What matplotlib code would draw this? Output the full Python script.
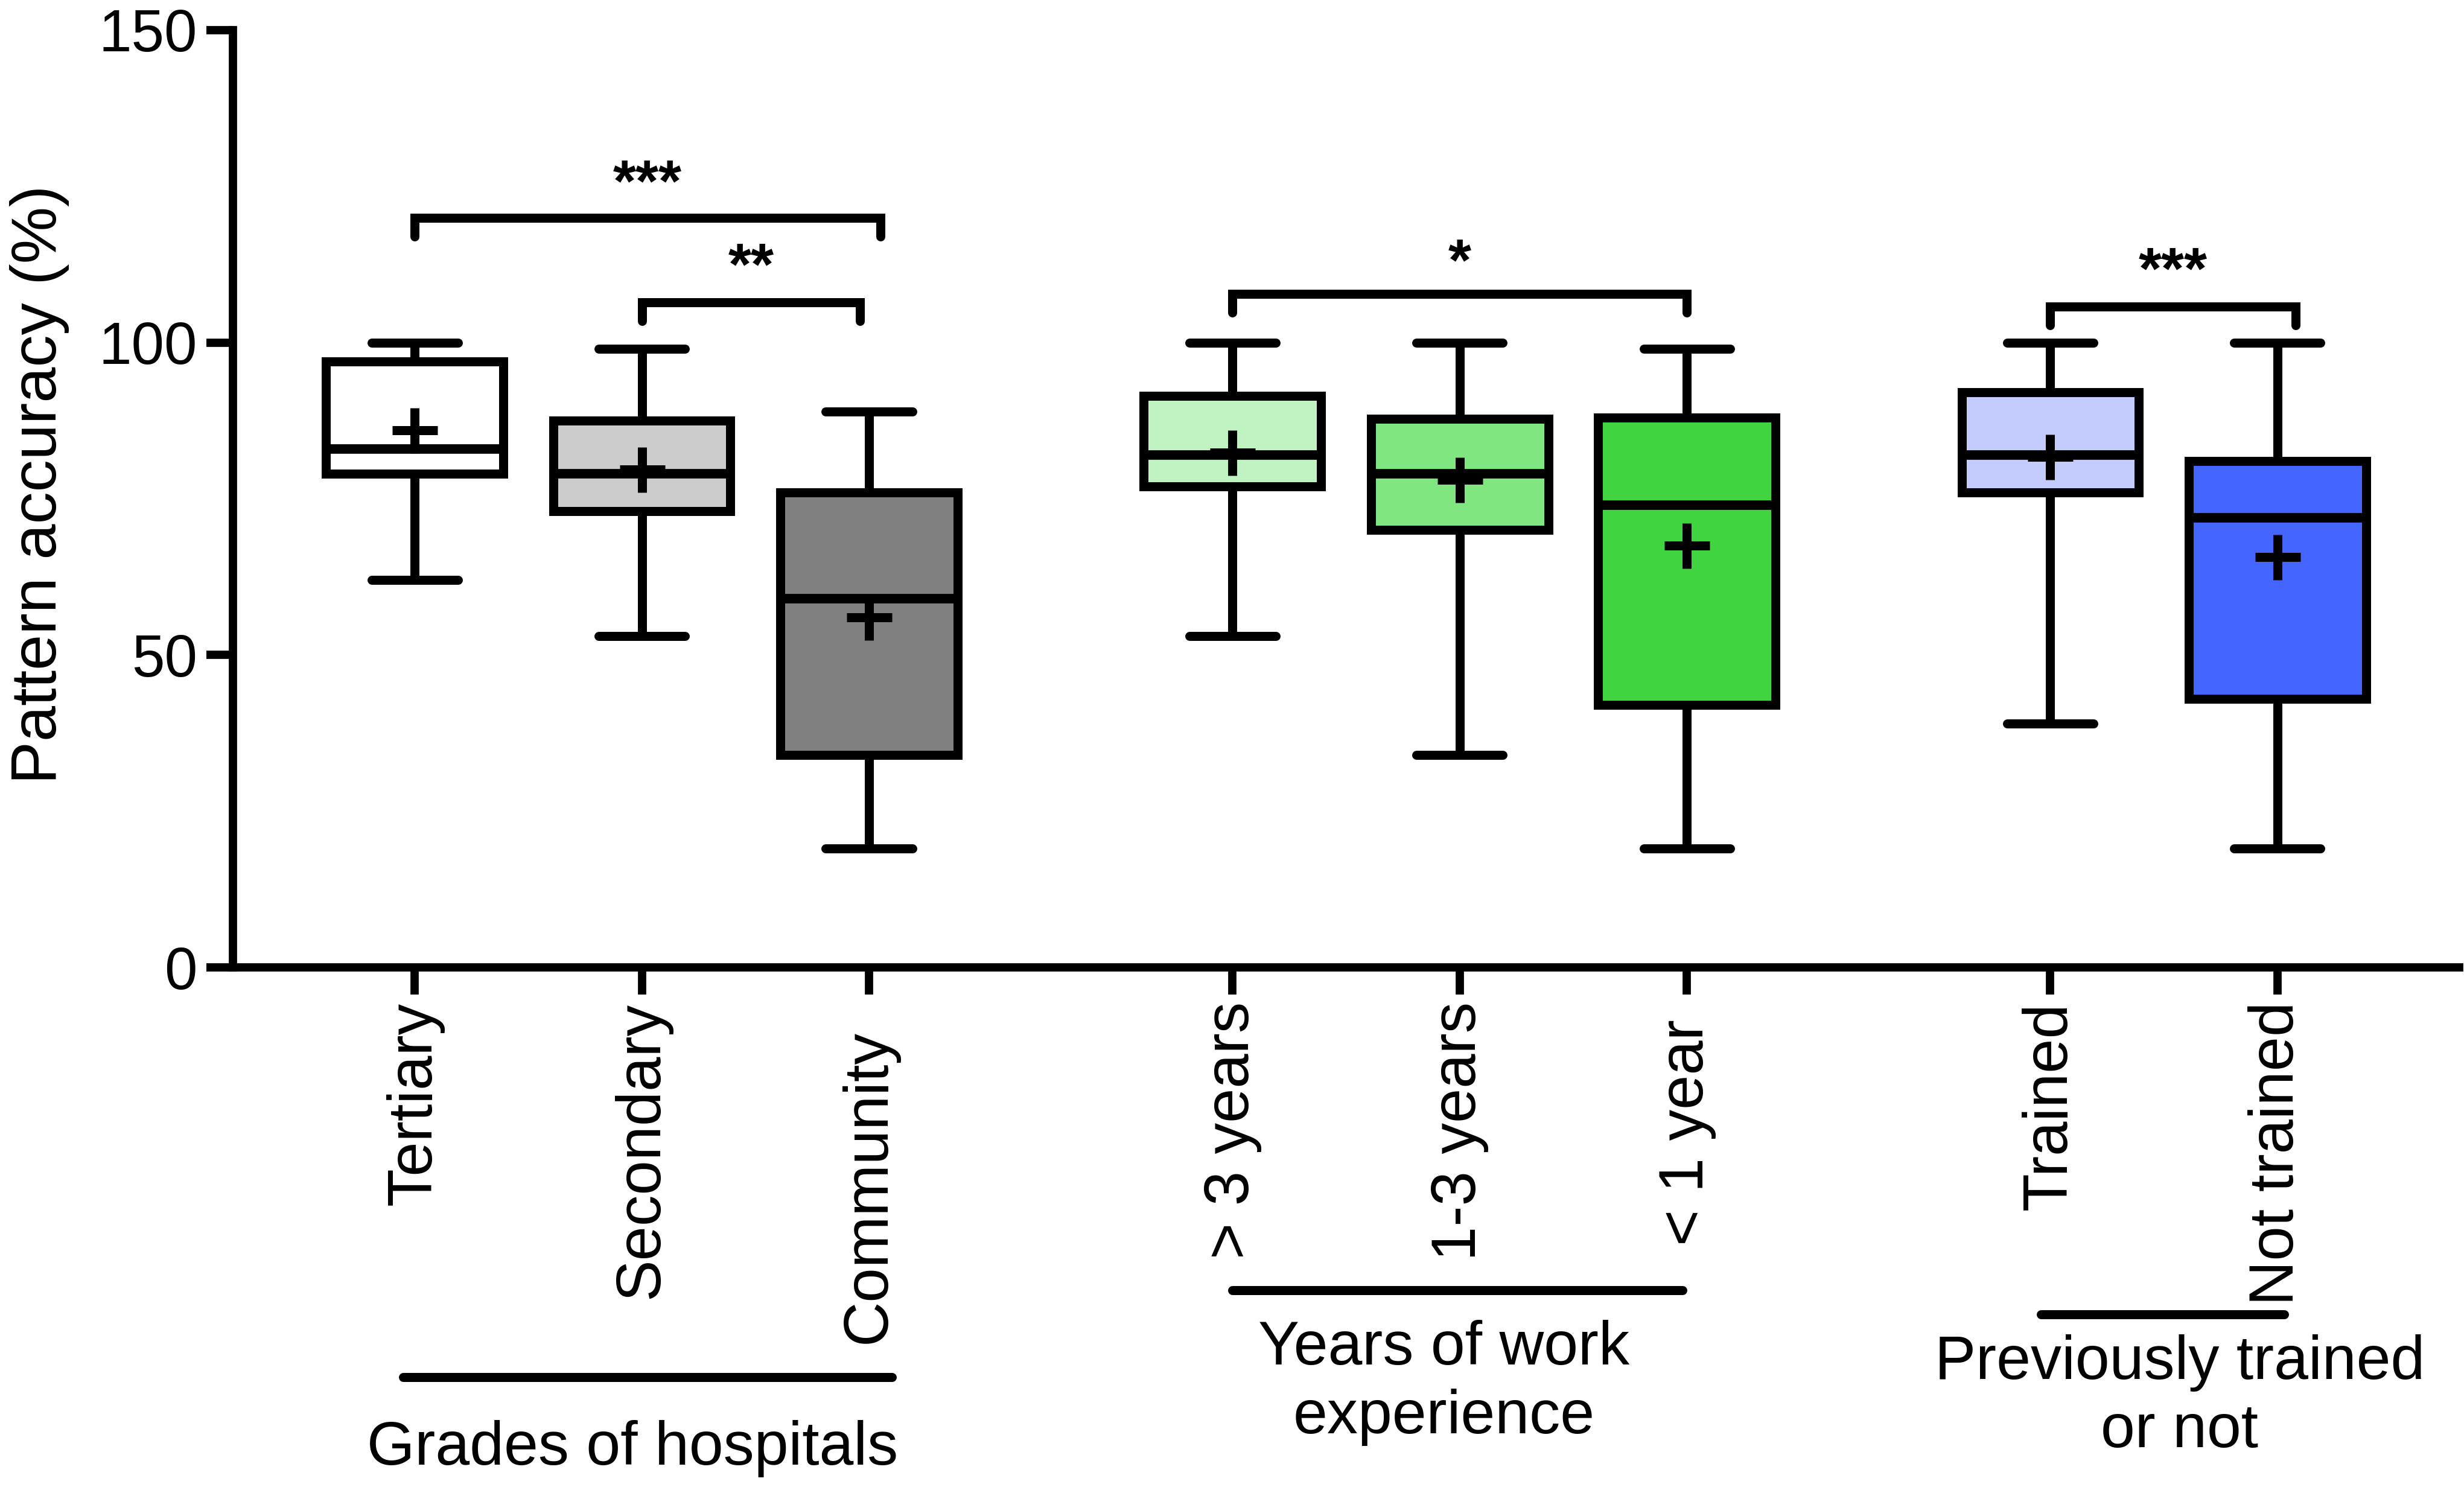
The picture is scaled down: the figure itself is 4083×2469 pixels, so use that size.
import matplotlib
matplotlib.use("Agg")
import matplotlib.pyplot as plt
from matplotlib.transforms import blended_transform_factory, ScaledTranslation

plt.rcParams['font.family'] = ['Liberation Sans', 'DejaVu Sans']

# ---- data ----
categories = ["Tertiary", "Secondary", "Community",
              "> 3 years", "1-3 years", "< 1 year",
              "Trained", "Not trained"]
whisker_low = [62, 53, 19, 53, 34, 19, 39, 19]
q1 = [79, 73, 34, 77, 70, 42, 76, 43]
median = [83, 79, 59, 82, 79, 74, 82, 72]
q3 = [97, 87.5, 76, 91.5, 87.8, 88, 92, 81]
whisker_high = [100, 99, 89, 100, 100, 99, 100, 100]
means = [86, 79.7, 56, 82.4, 78, 67.5, 81.7, 65.7]
colors = ["#ffffff", "#cccccc", "#808080",
          "#c1f2c1", "#80e680", "#40d540",
          "#c3ccfd", "#4466ff"]

groups = ["Grades of hospitals", "Years of work\nexperience", "Previously trained\nor not"]
# significance annotations: (left index, right index, label)
sig_pairs = [(0, 2, "***"), (1, 2, "**"), (3, 5, "*"), (6, 7, "***")]
sig_heights = [120.0, 106.4, 107.8, 105.8]

# ---- layout ----
positions = [0, 1, 2, 3.6, 4.6, 5.6, 7.2, 8.2]
label_shift_pt = [0, 0, 11, 0, 0, 7, 0, 0]   # extra downward shift of some tick labels
W, H, DPI = 4083, 2469, 300
fig = plt.figure(figsize=(W / DPI, H / DPI), dpi=DPI)
ax = fig.add_axes([386 / W, 1 - 1603 / H, (4075 - 386) / W, (1603 - 50) / H])

LW = 3.6
stats = []
for i, c in enumerate(categories):
    stats.append(dict(label=c, whislo=whisker_low[i], q1=q1[i], med=median[i],
                      q3=q3[i], whishi=whisker_high[i], mean=means[i], fliers=[]))

bp = ax.bxp(stats, positions=positions, widths=0.78, capwidths=0.38,
            patch_artist=True, showmeans=True, showfliers=False,
            boxprops=dict(linewidth=LW, edgecolor="black"),
            whiskerprops=dict(linewidth=LW, color="black"),
            capprops=dict(linewidth=LW, color="black", solid_capstyle="round"),
            medianprops=dict(linewidth=LW * 1.05, color="black"),
            meanprops=dict(marker="+", markersize=18, markeredgewidth=LW,
                           markeredgecolor="black", markerfacecolor="black"))
for patch, col in zip(bp["boxes"], colors):
    patch.set_facecolor(col)
    patch.set_joinstyle("miter")

# significance brackets
leg = 3.0
offsets = {(0, 2, "***"): (0.0, 0.05), (1, 2, "**"): (0.0, -0.04),
           (3, 5, "*"): (0.0, 0.0), (6, 7, "***"): (0.0, 0.08)}
text_dy = {(0, 2, "***"): 2.6, (1, 2, "**"): 2.9, (3, 5, "*"): 2.2, (6, 7, "***"): 2.8}
for (a, b, lab), h in zip(sig_pairs, sig_heights):
    dl, dr = offsets[(a, b, lab)]
    x1, x2 = positions[a] + dl, positions[b] + dr
    ax.plot([x1, x1, x2, x2], [h - leg, h, h, h - leg], color="black",
            lw=LW, solid_joinstyle="miter", solid_capstyle="round",
            clip_on=False)
    ax.text((x1 + x2) / 2, h + text_dy[(a, b, lab)], lab, ha="center", va="baseline",
            fontsize=23.5, fontweight="bold")

# axes styling
ax.set_xlim(-0.8, 9.0)
ax.set_ylim(0, 150)
ax.set_yticks([0, 50, 100, 150])
ax.set_xticks(positions)
ax.set_xticklabels(categories, rotation=90, fontsize=24.7)
ax.tick_params(axis="y", labelsize=23.5, length=10.6, width=3.3, pad=3.6)
ax.tick_params(axis="x", length=10.8, width=3.3, pad=2.9)
for lbl, sh in zip(ax.get_xticklabels(), label_shift_pt):
    if sh:
        lbl.set_transform(lbl.get_transform() +
                          ScaledTranslation(0, -sh / 72, fig.dpi_scale_trans))
for s in ["top", "right"]:
    ax.spines[s].set_visible(False)
for s in ["left", "bottom"]:
    ax.spines[s].set_linewidth(3.3)
ax.spines["left"].set_capstyle("projecting")
ax.set_ylabel("Pattern accuracy (%)", fontsize=25.5, va="center")
ax.yaxis.set_label_coords(-0.087, 0.515)

# group lines and labels below axis
tr = blended_transform_factory(ax.transData, fig.transFigure)
group_lines = [(-0.05, 2.10, 1 - 2282 / H), (3.60, 5.58, 1 - 2138 / H), (7.16, 8.23, 1 - 2178 / H)]
# anchor = baseline of the last text line
group_text = [(0.96, 1 - 2427 / H), (4.53, 1 - 2375 / H), (7.77, 1 - 2398 / H)]
for (xa, xb, yy), (tx, ty), g in zip(group_lines, group_text, groups):
    ax.plot([xa, xb], [yy, yy], color="black", lw=3.6, solid_capstyle="round",
            transform=tr, clip_on=False)
    ax.text(tx, ty, g, ha="center", va="baseline", fontsize=24.5,
            linespacing=1.25, transform=tr, multialignment="center")

fig.savefig("out.png", dpi=DPI)
